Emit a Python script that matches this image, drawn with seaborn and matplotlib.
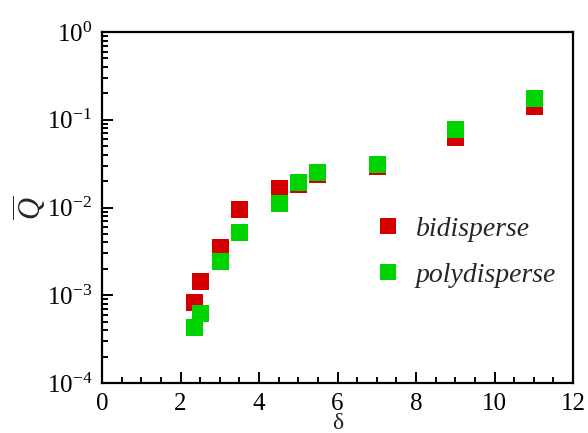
import matplotlib
matplotlib.use("Agg")
import matplotlib.pyplot as plt
import seaborn as sns
import pandas as pd
from matplotlib.ticker import LogLocator, MultipleLocator, NullFormatter
from matplotlib.lines import Line2D

delta = [2.36, 2.51, 3.02, 3.5, 4.52, 5.0, 5.5, 7.02, 9.0, 11.02]
bidisperse = [8.3e-4, 1.43e-3, 3.5e-3, 9.5e-3, 1.65e-2, 1.83e-2, 2.38e-2, 2.93e-2, 6.3e-2, 0.1416]
polydisperse = [4.3e-4, 6.2e-4, 2.43e-3, 5.2e-3, 1.11e-2, 1.93e-2, 2.51e-2, 3.09e-2, 7.74e-2, 0.1746]
series = ["bidisperse", "polydisperse"]
colors = ["#d40000", "#00d400"]

df = pd.concat([
    pd.DataFrame({"delta": delta, "Q": bidisperse, "series": series[0]}),
    pd.DataFrame({"delta": delta, "Q": polydisperse, "series": series[1]}),
])

sns.set_style("white")
plt.rcParams["font.family"] = ["Liberation Serif", "DejaVu Serif"]
plt.rcParams["mathtext.fontset"] = "custom"
plt.rcParams["mathtext.rm"] = "Liberation Serif"
plt.rcParams["mathtext.it"] = "Liberation Serif:italic"

fig = plt.figure(figsize=(5.88, 4.33), dpi=100)
ax = fig.add_axes([0.1735, 0.1155, 0.801, 0.8105])

sns.scatterplot(data=df, x="delta", y="Q", hue="series", hue_order=series,
                palette=colors, marker="s", s=150, linewidth=0, ax=ax, legend=False)

ax.set_yscale("log")
ax.set_xlim(0, 12)
ax.set_ylim(1e-4, 1)
ax.xaxis.set_major_locator(MultipleLocator(2))
ax.xaxis.set_minor_locator(MultipleLocator(0.5))
ax.yaxis.set_major_locator(LogLocator(base=10, numticks=10))
ax.yaxis.set_minor_locator(LogLocator(base=10, subs=range(2, 10), numticks=20))
ax.yaxis.set_minor_formatter(NullFormatter())

for sp in ax.spines.values():
    sp.set_visible(True)
    sp.set_color("black")
    sp.set_linewidth(1.6)

ax.tick_params(which="both", direction="in", top=False, right=False,
               left=True, bottom=True, labelsize=18, colors="black", width=1.4)
ax.tick_params(which="major", length=8)
ax.tick_params(which="minor", length=4.5)
ax.tick_params(axis="x", which="major", pad=7)
ax.tick_params(axis="y", which="major", pad=7)

ax.set_xlabel("δ", fontsize=17, labelpad=-1)
ax.set_ylabel(r"$\overline{Q}$", fontsize=22, labelpad=-2)

handles = [Line2D([], [], marker="s", linestyle="none", markersize=12.2,
                  markerfacecolor=c, markeredgewidth=0) for c in colors]
leg = ax.legend(handles, series, loc="center left",
                bbox_to_anchor=(360 / 588, 1 - 252 / 433), bbox_transform=fig.transFigure,
                frameon=False, handlelength=1.0, handletextpad=0.5, labelspacing=0.73,
                borderpad=0, prop={"family": "Liberation Serif", "style": "italic", "size": 20})

fig.savefig("out.png", dpi=100)
